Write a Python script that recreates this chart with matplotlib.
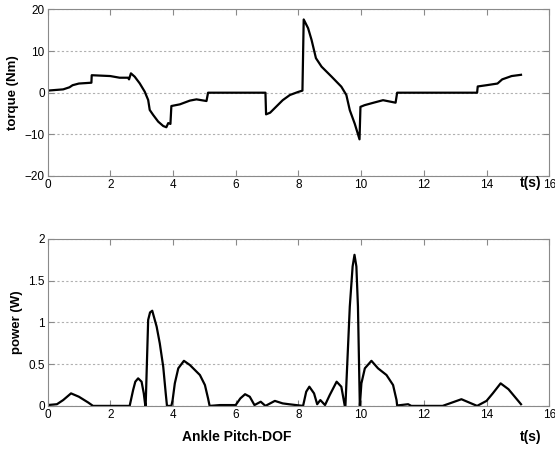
import matplotlib
matplotlib.use("Agg")
import matplotlib.pyplot as plt

plt.rcParams['font.family'] = ['Liberation Sans', 'DejaVu Sans']

torque_t = [0.0, 0.5, 0.7, 0.8, 1.0, 1.40, 1.41, 2.0, 2.3, 2.57, 2.60, 2.66, 2.78, 2.94, 3.1, 3.21, 3.26,
            3.37, 3.53, 3.69, 3.79, 3.85, 3.92, 3.95, 4.22, 4.54, 4.75, 5.07, 5.12,
            6.95, 6.97, 7.1, 7.5, 7.73, 8.0, 8.13, 8.17, 8.31, 8.42, 8.56, 8.74, 9.06, 9.37, 9.53, 9.64,
            9.8, 9.95, 9.98, 10.11, 10.4, 10.7, 11.1, 11.15, 13.7, 13.72,
            14.0, 14.35, 14.5, 14.8, 15.1]
torque_v = [0.5, 0.8, 1.3, 1.8, 2.2, 2.4, 4.2, 4.0, 3.6, 3.6, 3.2, 4.65, 3.85, 2.25, 0.25, -1.75, -4.15,
            -5.35, -6.95, -8.0, -8.3, -7.3, -7.5, -3.2, -2.8, -1.9, -1.6, -2.0, 0.0,
            0.0, -5.2, -4.8, -1.8, -0.55, 0.2, 0.5, 17.6, 15.5, 12.7, 8.3, 6.25, 3.85, 1.45, -0.55, -4.2,
            -7.5, -11.2, -3.4, -3.0, -2.4, -1.8, -2.4, 0.0, 0.0, 1.5,
            1.8, 2.2, 3.2, 4.0, 4.3]

power_t = [0.0, 0.3, 0.5, 0.75, 1.0, 1.3, 1.45, 2.62, 2.73, 2.80, 2.89, 3.0, 3.07, 3.12, 3.13, 3.21,
           3.27, 3.34, 3.48, 3.58, 3.69, 3.77, 3.81, 3.95, 3.99, 4.06, 4.17, 4.35, 4.54, 4.86, 5.02, 5.12,
           5.17, 5.5, 6.0, 6.15, 6.3, 6.45, 6.6, 6.8, 6.95, 7.25, 7.5, 7.7, 8.15, 8.25, 8.35, 8.5, 8.6,
           8.7, 8.85, 9.0, 9.22, 9.37, 9.48, 9.50, 9.64, 9.73, 9.79, 9.85, 9.9, 9.96, 10.01, 10.12,
           10.33, 10.54, 10.81, 11.02, 11.13, 11.15, 11.5, 11.6, 12.6, 13.2, 13.7, 14.0, 14.2, 14.45,
           14.7, 15.1]
power_v = [0.01, 0.02, 0.07, 0.15, 0.11, 0.04, 0.0, 0.0, 0.19, 0.29, 0.33, 0.29, 0.15, 0.0, 0.0, 1.03,
           1.12, 1.14, 0.95, 0.75, 0.47, 0.15, 0.0, 0.0, 0.07, 0.27, 0.45, 0.54, 0.49, 0.37, 0.25, 0.09,
           0.0, 0.01, 0.01, 0.09, 0.14, 0.11, 0.01, 0.05, 0.0, 0.06, 0.03, 0.02, 0.0, 0.17, 0.23, 0.15, 0.02,
           0.07, 0.01, 0.13, 0.29, 0.23, 0.0, 0.0, 1.19, 1.67, 1.81, 1.67, 1.19, 0.0, 0.27, 0.45,
           0.54, 0.45, 0.37, 0.25, 0.07, 0.005, 0.02, 0.0, 0.0, 0.08, 0.0, 0.06, 0.15, 0.27,
           0.20, 0.02]

x_ticks = [0, 2, 4, 6, 8, 10, 12, 14, 16]
torque_ticks = [-20, -10, 0, 10, 20]
power_ticks = [0, 0.5, 1, 1.5, 2]
power_ticklabels = ['0', '0.5', '1', '1.5', '2']

fig = plt.figure(figsize=(5.55, 4.5), dpi=100)
ax1 = fig.add_axes([0.0856, 0.609, 0.904, 0.370])
ax2 = fig.add_axes([0.0856, 0.098, 0.904, 0.371])

def style(ax):
    for s in ax.spines.values():
        s.set_color('#8a8a8a')
        s.set_linewidth(0.8)
    ax.tick_params(direction='in', length=4, color='#8a8a8a', labelsize=8.5,
                   top=True, right=True, pad=2)
    ax.yaxis.grid(True, linestyle=(0, (2, 2)), color='#b0b0b0', linewidth=0.8)
    ax.set_axisbelow(True)
    ax.set_xlim(0, 16)
    ax.set_xticks(x_ticks)

ax1.plot(torque_t, torque_v, color='black', linewidth=1.6)
style(ax1)
ax1.set_ylim(-20, 20)
ax1.set_yticks(torque_ticks)
ax1.set_ylabel('torque (Nm)', fontsize=9.5, fontweight='bold', labelpad=4)

ax2.plot(power_t, power_v, color='black', linewidth=1.6)
style(ax2)
ax2.set_ylim(0, 2)
ax2.set_yticks(power_ticks)
ax2.set_yticklabels(power_ticklabels)
ax2.set_ylabel('power (W)', fontsize=9.5, fontweight='bold', labelpad=4)

fig.text(0.937, 1 - 183/450, 't(s)', fontsize=10, fontweight='bold', ha='left', va='center')
fig.text(0.937, 1 - 437/450, 't(s)', fontsize=10, fontweight='bold', ha='left', va='center')
fig.text(0.328, 1 - 437/450, 'Ankle Pitch-DOF', fontsize=10, fontweight='bold', ha='left', va='center')

fig.savefig('out.png', dpi=100)
